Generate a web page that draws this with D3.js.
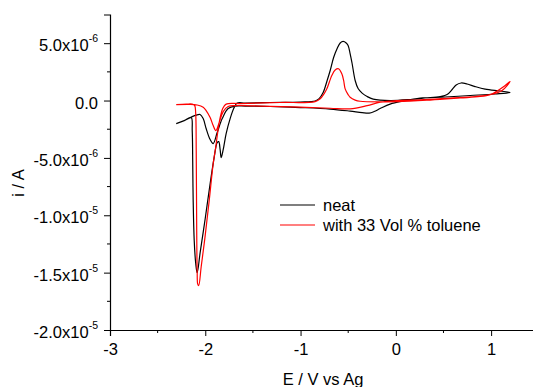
<!DOCTYPE html>
<html>
<head>
<meta charset="utf-8">
<script src="https://cdn.jsdelivr.net/npm/d3@7"></script>
<style>
  body { margin: 0; background: #fff; }
  text { font-family: "Liberation Sans", Arial, sans-serif; fill: #000; }
</style>
</head>
<body>
<div id="chart"></div>
<script>
// potential (V vs Ag) and current (in units of 1e-6 A)
var neatE = [-2.305, -2.221, -2.148, -2.137, -2.132, -2.127, -2.116, -2.101, -2.085, -2.054,
  -2.001, -1.949, -1.907, -1.875, -1.859, -1.844, -1.833, -1.812, -1.781, -1.739,
  -1.697, -1.665, -1.581, -1.319, -1.004, -0.847, -0.805, -0.763, -0.721, -0.689,
  -0.653, -0.616, -0.584, -0.553, -0.521, -0.501, -0.480, -0.459, -0.427, -0.396,
  -0.354, -0.301, -0.238, -0.060, 0.150, 0.307, 0.465, 0.538, 0.591, 0.633,
  0.685, 0.748, 0.832, 0.937, 1.094, 1.199, 1.042, 0.780, 0.517, 0.255,
  0.076, -0.060, -0.165, -0.228, -0.280, -0.354, -0.480, -0.689, -1.004, -1.319,
  -1.581, -1.686, -1.760, -1.822, -1.875, -1.917, -1.949, -1.991, -2.022, -2.054,
  -2.095, -2.137, -2.221, -2.305];
var neatI = [-2.01, -1.75, -1.48, -2.62, -5.24, -8.73, -12.22, -14.14, -15.01, -13.26,
  -10.30, -7.24, -4.97, -3.66, -3.58, -4.28, -4.97, -4.28, -2.88, -1.57,
  -0.61, -0.22, -0.22, -0.17, -0.13, -0.04, 0.17, 0.70, 1.75, 2.62,
  3.75, 4.54, 5.02, 5.15, 5.02, 4.80, 4.10, 3.23, 1.75, 1.05,
  0.65, 0.35, 0.13, 0.00, 0.09, 0.22, 0.35, 0.52, 0.96, 1.35,
  1.53, 1.44, 1.22, 1.00, 0.83, 0.70, 0.57, 0.44, 0.31, 0.22,
  -0.04, -0.31, -0.70, -0.96, -1.09, -1.05, -0.92, -0.74, -0.61, -0.52,
  -0.48, -0.48, -0.70, -1.57, -2.79, -3.75, -3.40, -2.44, -1.57, -1.22,
  -1.27, -1.40, -1.75, -2.01];

var tolE = [-2.305, -2.200, -2.137, -2.111, -2.101, -2.095, -2.090, -2.085, -2.080, -2.069,
  -2.043, -2.001, -1.959, -1.917, -1.891, -1.870, -1.844, -1.817, -1.781, -1.634,
  -1.214, -0.847, -0.794, -0.752, -0.724, -0.672, -0.637, -0.602, -0.567, -0.548,
  -0.532, -0.501, -0.480, -0.427, -0.375, 0.014, 0.360, 0.675, 0.885, 0.990,
  1.063, 1.126, 1.199, 1.115, 1.021, 0.832, 0.570, 0.255, 0.014, -0.165,
  -0.301, -0.480, -0.689, -1.004, -1.424, -1.686, -1.760, -1.812, -1.854, -1.889,
  -1.917, -1.949, -1.991, -2.022, -2.085, -2.158, -2.305];
var tolI = [-0.35, -0.31, -0.31, -0.44, -1.05, -4.36, -11.34, -15.01, -15.97, -16.14,
  -14.49, -11.78, -8.73, -5.50, -4.10, -2.79, -1.48, -0.70, -0.31, -0.26,
  -0.17, -0.09, 0.15, 0.61, 1.02, 2.18, 2.66, 2.77, 2.33, 1.75,
  1.02, 0.52, 0.29, 0.04, -0.06, -0.09, 0.04, 0.22, 0.35, 0.52,
  0.83, 1.18, 1.66, 0.87, 0.57, 0.35, 0.22, 0.07, 0.00, -0.15,
  -0.44, -0.72, -0.67, -0.57, -0.48, -0.44, -0.52, -0.96, -1.92, -2.62,
  -2.18, -1.48, -0.87, -0.58, -0.39, -0.33, -0.35];

var seriesNames = ["neat", "with 33 Vol % toluene"];
var seriesColors = ["#000000", "#ff0000"];
var xTicks = [-3, -2, -1, 0, 1];
var yTicks = [5, 0, -5, -10, -15, -20];
var yTickMant = ["5.0", "0.0", "-5.0", "-1.0", "-1.5", "-2.0"];
var yTickExp = ["-6", "", "-6", "-5", "-5", "-5"];

var W = 533, H = 387;
var FONT = "16.5px";

var svg = d3.select("#chart").append("svg")
    .attr("width", W)
    .attr("height", H);

var x = d3.scaleLinear().domain([-3, 1.45]).range([110, 534]);
var y = d3.scaleLinear().domain([-20, 7.5]).range([330, 14.5]);

// bottom axis: majors every 1 V, minors in between
var xAxis = d3.axisBottom(x).tickValues(xTicks).tickSize(6).tickPadding(7)
    .tickFormat(function (d) { return String(d); });
var gx = svg.append("g").attr("transform", "translate(0,330)").call(xAxis);
gx.append("g").selectAll("line")
    .data([-2.5, -1.5, -0.5, 0.5])
    .enter().append("line")
    .attr("x1", function (d) { return x(d); })
    .attr("x2", function (d) { return x(d); })
    .attr("y1", 0).attr("y2", 3)
    .attr("stroke", "#000");

// left axis, labels like 5.0x10^-6 drawn by hand below
var yAxis = d3.axisLeft(y).tickValues(yTicks).tickSize(6).tickFormat("");
var gy = svg.append("g").attr("transform", "translate(110,0)").call(yAxis);
gy.append("g").selectAll("line")
    .data([2.5, -2.5, -7.5, -12.5, -17.5])
    .enter().append("line")
    .attr("x1", -3).attr("x2", 0)
    .attr("y1", function (d) { return y(d); })
    .attr("y2", function (d) { return y(d); })
    .attr("stroke", "#000");

[gx, gy].forEach(function (g) {
  g.select(".domain").attr("stroke", "#000").attr("stroke-width", 1.2);
  g.selectAll(".tick line").attr("stroke", "#000");
  g.selectAll("text").style("font-family", "Liberation Sans, Arial, sans-serif")
      .style("font-size", FONT).attr("fill", "#000");
});

var yl = svg.append("g").selectAll("text")
    .data(yTicks)
    .enter().append("text")
    .attr("x", 98)
    .attr("y", function (d) { return y(d) + 8; })
    .attr("text-anchor", "end")
    .style("font-size", FONT);
yl.append("tspan").text(function (d, i) { return yTickMant[i] + (yTickExp[i] ? "x10" : ""); });
yl.append("tspan")
    .attr("dy", -9)
    .style("font-size", "10.5px")
    .text(function (d, i) { return yTickExp[i]; });

// axis titles
svg.append("text")
    .attr("x", 323).attr("y", 385)
    .attr("text-anchor", "middle")
    .style("font-size", FONT)
    .text("E / V vs Ag");

svg.append("text")
    .attr("transform", "translate(24,183) rotate(-90)")
    .attr("text-anchor", "middle")
    .style("font-size", FONT)
    .text("i / A");

// the two voltammograms
var line = d3.line()
    .x(function (d) { return x(d[0]); })
    .y(function (d) { return y(d[1]); })
    .curve(d3.curveCatmullRom.alpha(0.5));

var curves = [d3.zip(neatE, neatI), d3.zip(tolE, tolI)];

svg.append("g").selectAll("path")
    .data(curves)
    .enter().append("path")
    .attr("d", line)
    .attr("fill", "none")
    .attr("stroke", function (d, i) { return seriesColors[i]; })
    .attr("stroke-width", 1.2)
    .attr("stroke-linejoin", "round");

// legend
var leg = svg.append("g").selectAll("g")
    .data(seriesNames)
    .enter().append("g")
    .attr("transform", function (d, i) { return "translate(280," + (205 + i * 20) + ")"; });
leg.append("line")
    .attr("x1", 0).attr("x2", 35)
    .attr("stroke", function (d, i) { return seriesColors[i]; })
    .attr("stroke-width", 1.2);
leg.append("text")
    .attr("x", 43).attr("y", 6)
    .style("font-size", FONT)
    .text(function (d) { return d; });
</script>
</body>
</html>
